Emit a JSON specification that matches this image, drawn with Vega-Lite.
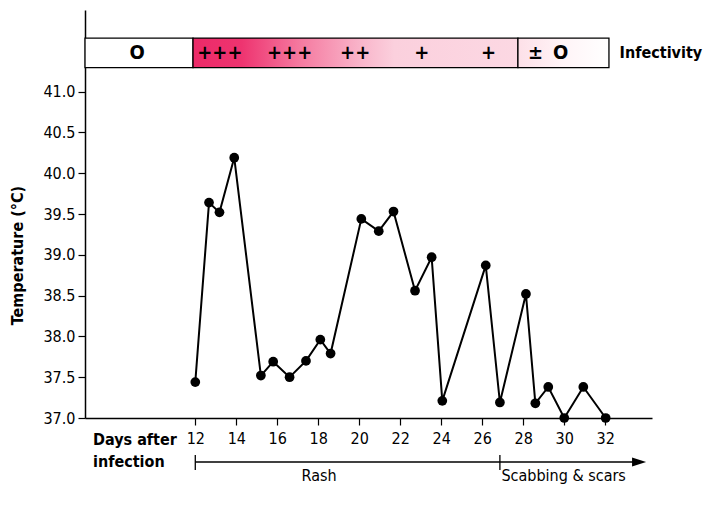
{
  "$schema": "https://vega.github.io/schema/vega-lite/v6.json",
  "width": 567,
  "height": 408,
  "autosize": "none",
  "padding": {"left": 85, "top": 10, "right": 59, "bottom": 87},
  "background": "white",
  "config": {
    "font": "'DejaVu Sans Condensed', 'Liberation Sans', sans-serif",
    "view": {"stroke": null},
    "axis": {"domainColor": "black", "tickColor": "black", "labelColor": "black", "titleColor": "black", "grid": false, "domainWidth": 1.5, "tickWidth": 1.2, "tickSize": 7, "labelFontSize": 16, "labelFont": "'DejaVu Sans Condensed', 'Liberation Sans', sans-serif", "titleFont": "'DejaVu Sans Condensed', 'Liberation Sans', sans-serif"}
  },
  "datasets": {
    "temps": [
      {"day": 12.0, "temp": 37.44}, {"day": 12.67, "temp": 39.64}, {"day": 13.18, "temp": 39.52}, {"day": 13.9, "temp": 40.19},
      {"day": 15.2, "temp": 37.52}, {"day": 15.8, "temp": 37.69}, {"day": 16.6, "temp": 37.5}, {"day": 17.4, "temp": 37.7},
      {"day": 18.1, "temp": 37.96}, {"day": 18.6, "temp": 37.79}, {"day": 20.1, "temp": 39.44}, {"day": 20.95, "temp": 39.29},
      {"day": 21.67, "temp": 39.53}, {"day": 22.72, "temp": 38.56}, {"day": 23.53, "temp": 38.97}, {"day": 24.05, "temp": 37.21},
      {"day": 26.17, "temp": 38.87}, {"day": 26.86, "temp": 37.19}, {"day": 28.13, "temp": 38.52}, {"day": 28.59, "temp": 37.18},
      {"day": 29.22, "temp": 37.38}, {"day": 30.0, "temp": 37.0}, {"day": 30.93, "temp": 37.38}, {"day": 32.02, "temp": 37.0}
    ],
    "bandNone": [{"day": 6.62, "day2": 11.89, "temp": 41.656, "temp2": 41.294}],
    "bandHigh": [{"day": 11.89, "day2": 27.74, "temp": 41.656, "temp2": 41.294}],
    "bandLow": [{"day": 27.74, "day2": 32.18, "temp": 41.656, "temp2": 41.294}],
    "bandLabels": [
      {"day": 9.16, "temp": 41.475, "label": "O"},
      {"day": 13.2, "temp": 41.475, "label": "+++"},
      {"day": 16.6, "temp": 41.475, "label": "+++"},
      {"day": 19.8, "temp": 41.475, "label": "++"},
      {"day": 23.05, "temp": 41.475, "label": "+"},
      {"day": 26.3, "temp": 41.475, "label": "+"},
      {"day": 28.6, "temp": 41.475, "label": "±"},
      {"day": 29.82, "temp": 41.475, "label": "O"}
    ],
    "bandTitle": [{"day": 32.7, "temp": 41.475, "label": "Infectivity"}],
    "daysTitle": [
      {"day": 7.01, "temp": 36.73, "label": "Days after"},
      {"day": 7.01, "temp": 36.461, "label": "infection"}
    ],
    "phaseLine": [{"day": 12, "day2": 33.6, "temp": 36.461}],
    "phaseTicks": [
      {"day": 12, "temp": 36.547, "temp2": 36.363},
      {"day": 26.86, "temp": 36.547, "temp2": 36.363}
    ],
    "arrowHead": [{"day": 33.65, "temp": 36.461}],
    "phaseLabels": [
      {"day": 18.04, "temp": 36.29, "label": "Rash"},
      {"day": 29.97, "temp": 36.29, "label": "Scabbing & scars"}
    ]
  },
  "encoding": {
    "x": {
      "field": "day", "type": "quantitative",
      "scale": {"domain": [6.62, 34.28], "nice": false, "zero": false},
      "axis": {"values": [12, 14, 16, 18, 20, 22, 24, 26, 28, 30, 32], "title": null, "labelPadding": 5, "labelBaseline": "top"}
    },
    "y": {
      "field": "temp", "type": "quantitative",
      "scale": {"domain": [37, 42.0], "nice": false, "zero": false},
      "axis": {"values": [37, 37.5, 38, 38.5, 39, 39.5, 40, 40.5, 41], "format": ".1f", "labelPadding": 3, "title": "Temperature (°C)", "titleFontSize": 16, "titleFontWeight": "bold", "titleX": -60, "titleY": 245, "titleAngle": -90, "titleAlign": "center", "titleBaseline": "bottom"}
    }
  },
  "layer": [
    {
      "data": {"name": "bandNone"},
      "mark": {"type": "rect", "color": "white", "stroke": "black", "strokeWidth": 1.3},
      "encoding": {"x2": {"field": "day2"}, "y2": {"field": "temp2"}}
    },
    {
      "data": {"name": "bandHigh"},
      "mark": {"type": "rect", "stroke": "black", "strokeWidth": 1.3,
        "color": {"gradient": "linear", "x1": 0, "x2": 1, "y1": 0, "y2": 0,
          "stops": [
            {"offset": 0, "color": "#ec2a68"},
            {"offset": 0.15, "color": "#ee3470"},
            {"offset": 0.33, "color": "#f57aa0"},
            {"offset": 0.52, "color": "#f9b6cb"},
            {"offset": 0.62, "color": "#fbd0dd"},
            {"offset": 1, "color": "#fcd8e3"}
          ]}},
      "encoding": {"x2": {"field": "day2"}, "y2": {"field": "temp2"}}
    },
    {
      "data": {"name": "bandLow"},
      "mark": {"type": "rect", "stroke": "black", "strokeWidth": 1.3,
        "color": {"gradient": "linear", "x1": 0, "x2": 1, "y1": 0, "y2": 0,
          "stops": [
            {"offset": 0, "color": "#fde0e8"},
            {"offset": 0.5, "color": "#fff4f7"},
            {"offset": 1, "color": "#ffffff"}
          ]}},
      "encoding": {"x2": {"field": "day2"}, "y2": {"field": "temp2"}}
    },
    {
      "data": {"name": "bandLabels"},
      "mark": {"type": "text", "fontSize": 20, "fontWeight": "bold", "color": "black", "align": "center", "baseline": "middle"},
      "encoding": {"text": {"field": "label"}}
    },
    {
      "data": {"name": "bandTitle"},
      "mark": {"type": "text", "fontSize": 16, "fontWeight": "bold", "color": "black", "align": "left", "baseline": "middle"},
      "encoding": {"text": {"field": "label"}}
    },
    {
      "data": {"name": "temps"},
      "mark": {"type": "line", "color": "black", "strokeWidth": 2},
      "encoding": {}
    },
    {
      "data": {"name": "temps"},
      "mark": {"type": "point", "filled": true, "color": "black", "opacity": 1, "size": 95},
      "encoding": {}
    },
    {
      "data": {"name": "daysTitle"},
      "mark": {"type": "text", "fontSize": 16, "fontWeight": "bold", "color": "black", "align": "left", "baseline": "middle"},
      "encoding": {"text": {"field": "label"}}
    },
    {
      "data": {"name": "phaseLine"},
      "mark": {"type": "rule", "color": "black", "strokeWidth": 1.3},
      "encoding": {"x2": {"field": "day2"}}
    },
    {
      "data": {"name": "phaseTicks"},
      "mark": {"type": "rule", "color": "black", "strokeWidth": 1.3},
      "encoding": {"y2": {"field": "temp2"}}
    },
    {
      "data": {"name": "arrowHead"},
      "mark": {"type": "point", "filled": true, "color": "black", "opacity": 1, "size": 196, "shape": "M-1,-0.65L1,0L-1,0.65Z"},
      "encoding": {}
    },
    {
      "data": {"name": "phaseLabels"},
      "mark": {"type": "text", "fontSize": 16, "color": "black", "align": "center", "baseline": "middle"},
      "encoding": {"text": {"field": "label"}}
    }
  ]
}
